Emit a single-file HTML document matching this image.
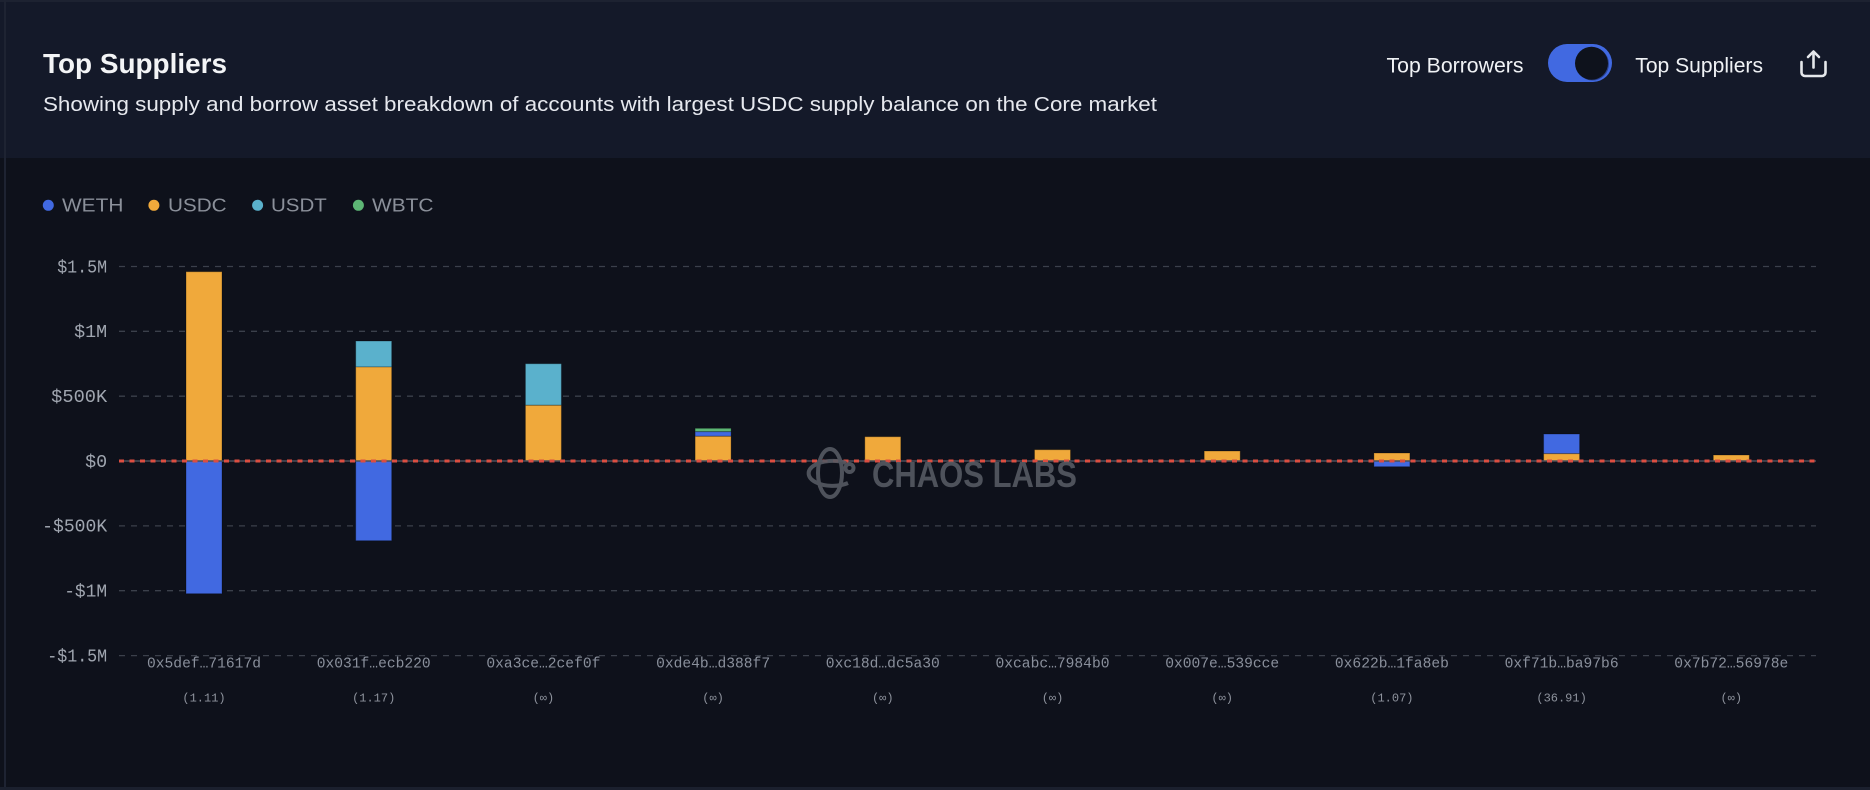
<!DOCTYPE html>
<html>
<head>
<meta charset="utf-8">
<style>
html,body{margin:0;padding:0;background:#0e111b;}
body{width:1870px;height:790px;overflow:hidden;}
svg{display:block;}
</style>
</head>
<body>
<svg width="1870" height="790" viewBox="0 0 1870 790" xmlns="http://www.w3.org/2000/svg">
  <!-- backgrounds -->
  <rect x="0" y="0" width="1870" height="790" fill="#0e111b"/>
  <rect x="0" y="0" width="1870" height="158" fill="#141929"/>
  <rect x="0" y="0" width="1870" height="2" fill="#1d2231"/>
  <rect x="4" y="0" width="2" height="790" fill="#1e2332"/>
  <rect x="0" y="787" width="1870" height="3" fill="#1b202e"/>

  <!-- header -->
  <text x="43" y="73" font-family="Liberation Sans, sans-serif" font-size="28" font-weight="bold" fill="#f3f4f6" textLength="184" lengthAdjust="spacingAndGlyphs">Top Suppliers</text>
  <text x="43" y="111" font-family="Liberation Sans, sans-serif" font-size="20" fill="#e6e8ee" textLength="1114" lengthAdjust="spacingAndGlyphs">Showing supply and borrow asset breakdown of accounts with largest USDC supply balance on the Core market</text>

  <text x="1386.5" y="72.3" font-family="Liberation Sans, sans-serif" font-size="21" fill="#f0f2f5" textLength="137" lengthAdjust="spacingAndGlyphs">Top Borrowers</text>
  <rect x="1548" y="44" width="64" height="38" rx="19" ry="19" fill="#4169e1"/>
  <circle cx="1592.5" cy="64" r="16.5" fill="#1d2a5a" opacity="0.6"/>
  <circle cx="1591.5" cy="63.3" r="16.5" fill="#0e121c"/>
  <text x="1635.3" y="72.3" font-family="Liberation Sans, sans-serif" font-size="21" fill="#f0f2f5" textLength="127.7" lengthAdjust="spacingAndGlyphs">Top Suppliers</text>
  <g fill="none" stroke="#e5e7eb" stroke-width="2.6" stroke-linecap="round" stroke-linejoin="round">
    <path d="M1801.5 62 V72.5 a3.5 3.5 0 0 0 3.5 3.5 H1822 a3.5 3.5 0 0 0 3.5 -3.5 V62"/>
    <path d="M1813.5 67.5 V52"/>
    <path d="M1808 57 L1813.5 51.5 L1819 57"/>
  </g>

  <!-- legend -->
  <g font-family="Liberation Sans, sans-serif" font-size="18.5" fill="#8b909a">
    <circle cx="48.3" cy="205.3" r="5.5" fill="#4169e1"/>
    <text x="62" y="211.7" textLength="61.4" lengthAdjust="spacingAndGlyphs">WETH</text>
    <circle cx="153.9" cy="205.3" r="5.5" fill="#f0a93b"/>
    <text x="168" y="211.7" textLength="58.6" lengthAdjust="spacingAndGlyphs">USDC</text>
    <circle cx="257.6" cy="205.3" r="5.5" fill="#5ab1cc"/>
    <text x="271" y="211.7" textLength="55.8" lengthAdjust="spacingAndGlyphs">USDT</text>
    <circle cx="358.4" cy="205.3" r="5.5" fill="#5db675"/>
    <text x="372" y="211.7" textLength="61.5" lengthAdjust="spacingAndGlyphs">WBTC</text>
  </g>

  <!-- grid -->
  <g stroke="#3b404b" stroke-width="1.3" stroke-dasharray="6 6" fill="none">
    <line x1="119" y1="266.5" x2="1816" y2="266.5"/>
    <line x1="119" y1="331.3" x2="1816" y2="331.3"/>
    <line x1="119" y1="396.2" x2="1816" y2="396.2"/>
    <line x1="119" y1="525.9" x2="1816" y2="525.9"/>
    <line x1="119" y1="590.7" x2="1816" y2="590.7"/>
    <line x1="119" y1="655.6" x2="1816" y2="655.6"/>
  </g>

  <!-- y labels -->
  <g font-family="Liberation Mono, monospace" font-size="18" fill="#a0a6b0" text-anchor="end">
    <text x="107.2" y="272.3" textLength="50" lengthAdjust="spacingAndGlyphs">$1.5M</text>
    <text x="107.2" y="337.1" textLength="33" lengthAdjust="spacingAndGlyphs">$1M</text>
    <text x="107.2" y="402" textLength="56" lengthAdjust="spacingAndGlyphs">$500K</text>
    <text x="107.2" y="466.8" textLength="22" lengthAdjust="spacingAndGlyphs">$0</text>
    <text x="107.2" y="531.7" textLength="65" lengthAdjust="spacingAndGlyphs">-$500K</text>
    <text x="107.2" y="596.5" textLength="43" lengthAdjust="spacingAndGlyphs">-$1M</text>
    <text x="107.2" y="661.4" textLength="60" lengthAdjust="spacingAndGlyphs">-$1.5M</text>
  </g>

  <!-- bars -->
  <g stroke="rgba(0,0,0,0.28)" stroke-width="1">
    <!-- 0 -->
    <rect x="186" y="271.7" width="36" height="189.3" fill="#f0a93b"/>
    <rect x="186" y="461" width="36" height="132.7" fill="#4169e1"/>
    <!-- 1 -->
    <rect x="355.7" y="341" width="36" height="26" fill="#5ab1cc"/>
    <rect x="355.7" y="367" width="36" height="94" fill="#f0a93b"/>
    <rect x="355.7" y="461" width="36" height="79.7" fill="#4169e1"/>
    <!-- 2 -->
    <rect x="525.4" y="363.7" width="36" height="41.6" fill="#5ab1cc"/>
    <rect x="525.4" y="405.3" width="36" height="55.7" fill="#f0a93b"/>
    <!-- 3 -->
    <rect x="695.1" y="428.3" width="36" height="3.4" fill="#5db675"/>
    <rect x="695.1" y="431.7" width="36" height="4.6" fill="#4169e1"/>
    <rect x="695.1" y="436.3" width="36" height="24.7" fill="#f0a93b"/>
    <!-- 4 -->
    <rect x="864.8" y="436.7" width="36" height="24.3" fill="#f0a93b"/>
    <!-- 5 -->
    <rect x="1034.5" y="449.7" width="36" height="11.3" fill="#f0a93b"/>
    <!-- 6 -->
    <rect x="1204.2" y="451" width="36" height="10" fill="#f0a93b"/>
    <!-- 7 -->
    <rect x="1373.9" y="453" width="36" height="8" fill="#f0a93b"/>
    <rect x="1373.9" y="461" width="36" height="5.7" fill="#4169e1"/>
    <!-- 8 -->
    <rect x="1543.6" y="434" width="36" height="19.7" fill="#4169e1"/>
    <rect x="1543.6" y="453.7" width="36" height="7.3" fill="#f0a93b"/>
    <!-- 9 -->
    <rect x="1713.3" y="455" width="36" height="6" fill="#f0a93b"/>
  </g>

  <!-- zero line -->
  <line x1="119" y1="461" x2="1816" y2="461" stroke="#4a4f5b" stroke-width="1.5"/>
  <line x1="119" y1="461" x2="1816" y2="461" stroke="#dc4e41" stroke-width="3" stroke-dasharray="5 5.5"/>

  <!-- watermark -->
  <g opacity="0.9">
    <g fill="none" stroke="#555a63" stroke-width="4">
      <ellipse cx="830" cy="473" rx="12" ry="24"/>
      <path d="M846 463 A24 12.5 0 1 0 848 483"/>
      <circle cx="849.5" cy="468" r="4"/>
    </g>
    <text x="872" y="487" font-family="Liberation Sans, sans-serif" font-size="36" font-weight="bold" fill="#555a63" textLength="205" lengthAdjust="spacingAndGlyphs">CHAOS LABS</text>
  </g>

  <!-- x labels -->
  <g font-family="Liberation Mono, monospace" font-size="15" fill="#8a909c" text-anchor="middle">
    <text x="204" y="667.5" textLength="114" lengthAdjust="spacingAndGlyphs">0x5def…71617d</text>
    <text x="373.7" y="667.5" textLength="114" lengthAdjust="spacingAndGlyphs">0x031f…ecb220</text>
    <text x="543.4" y="667.5" textLength="114" lengthAdjust="spacingAndGlyphs">0xa3ce…2cef0f</text>
    <text x="713.1" y="667.5" textLength="114" lengthAdjust="spacingAndGlyphs">0xde4b…d388f7</text>
    <text x="882.8" y="667.5" textLength="114" lengthAdjust="spacingAndGlyphs">0xc18d…dc5a30</text>
    <text x="1052.5" y="667.5" textLength="114" lengthAdjust="spacingAndGlyphs">0xcabc…7984b0</text>
    <text x="1222.2" y="667.5" textLength="114" lengthAdjust="spacingAndGlyphs">0x007e…539cce</text>
    <text x="1391.9" y="667.5" textLength="114" lengthAdjust="spacingAndGlyphs">0x622b…1fa8eb</text>
    <text x="1561.6" y="667.5" textLength="114" lengthAdjust="spacingAndGlyphs">0xf71b…ba97b6</text>
    <text x="1731.3" y="667.5" textLength="114" lengthAdjust="spacingAndGlyphs">0x7b72…56978e</text>
  </g>
  <g font-family="Liberation Mono, monospace" font-size="12" fill="#8e939d" text-anchor="middle">
    <text x="204" y="701.5">(1.11)</text>
    <text x="373.7" y="701.5">(1.17)</text>
    <text x="543.4" y="701.5">(∞)</text>
    <text x="713.1" y="701.5">(∞)</text>
    <text x="882.8" y="701.5">(∞)</text>
    <text x="1052.5" y="701.5">(∞)</text>
    <text x="1222.2" y="701.5">(∞)</text>
    <text x="1391.9" y="701.5">(1.07)</text>
    <text x="1561.6" y="701.5">(36.91)</text>
    <text x="1731.3" y="701.5">(∞)</text>
  </g>
</svg>
</body>
</html>
